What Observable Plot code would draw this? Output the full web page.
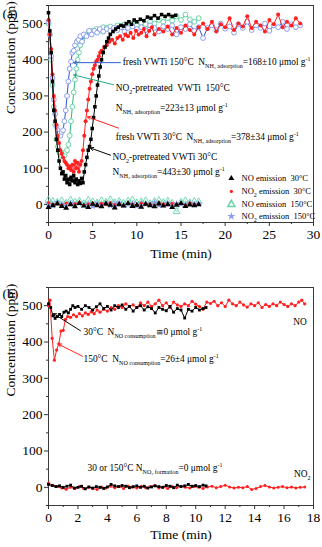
<!DOCTYPE html>
<html><head><meta charset="utf-8">
<script src="https://cdn.jsdelivr.net/npm/d3@7"></script>
<script src="https://cdn.jsdelivr.net/npm/@observablehq/plot@0.6"></script>
<style>
body{margin:0;background:#fff;}
#chart{width:322px;height:547px;position:relative;}
svg{display:block;}
</style></head><body><div id="chart"></div>
<script>
// ---------- Panel (a) data: [time (min), concentration (ppm)] ----------
const aBlack = [[0,530],[0.15,480],[0.3,420],[0.45,340],[0.6,260],[0.75,230],[0.9,180],[1.05,150],[1.2,120],[1.35,100],[1.5,85],[1.65,90],[1.8,70],[1.95,80],[2.1,60],[2.25,70],[2.4,55],[2.55,75],[2.7,65],[2.85,80],[3.0,60],[3.15,70],[3.3,55],[3.45,65],[3.6,58],[3.75,72],[3.9,60],[4.05,90],[4.2,110],[4.35,130],[4.5,150],[4.65,160],[4.8,180],[4.95,210],[5.1,240],[5.25,270],[5.4,300],[5.55,330],[5.7,355],[5.85,380],[6.0,400],[6.2,420],[6.4,435],[6.6,450],[6.8,460],[7.0,470],[7.3,478],[7.6,485],[7.9,490],[8.2,495],[8.5,493],[8.8,500],[9.1,505],[9.4,498],[9.7,510],[10.0,505],[10.4,512],[10.8,508],[11.2,518],[11.6,515],[12.0,522],[12.4,515],[12.8,525],[13.2,520],[13.6,525],[14.0,520],[14.4,523]];
const aRed = [[0,510],[0.15,470],[0.3,430],[0.45,360],[0.6,300],[0.75,260],[0.9,220],[1.05,190],[1.2,170],[1.35,150],[1.5,140],[1.65,130],[1.8,120],[1.95,115],[2.1,110],[2.25,100],[2.4,105],[2.55,95],[2.7,110],[2.85,90],[3.0,120],[3.15,100],[3.3,115],[3.45,90],[3.6,110],[3.75,120],[3.9,150],[4.05,190],[4.2,230],[4.35,260],[4.5,290],[4.65,320],[4.8,340],[4.95,360],[5.1,375],[5.25,385],[5.4,395],[5.55,400],[5.7,410],[5.85,420],[6.0,425],[6.3,435],[6.6,440],[6.9,450],[7.2,455],[7.5,445],[7.8,460],[8.1,465],[8.4,455],[8.7,470],[9.0,465],[9.3,475],[9.6,460],[9.9,480],[10.2,470],[10.5,475],[10.8,485],[11.1,465],[11.4,480],[11.7,490],[12.0,470],[12.5,485],[13.0,478],[13.5,492],[14.0,470],[14.5,488],[15.0,475],[15.5,495],[16.0,482],[16.5,470],[17.0,490],[17.5,500],[18.0,485],[18.5,505],[19.0,478],[19.5,498],[20.0,490],[20.5,515],[21.0,482],[21.5,500],[22.0,492],[22.5,520],[23.0,488],[23.5,505],[24.0,495],[24.5,478],[25.0,510],[25.5,498],[26.0,525],[26.5,490],[27.0,505],[27.5,495],[28.0,515],[28.5,500]];
const aGreen = [[0,500],[0.15,470],[0.3,400],[0.45,330],[0.6,270],[0.75,220],[0.9,180],[1.05,160],[1.2,145],[1.35,140],[1.5,135],[1.65,140],[1.8,135],[1.95,145],[2.1,150],[2.25,165],[2.4,190],[2.55,230],[2.7,270],[2.85,310],[3.0,345],[3.15,375],[3.3,400],[3.45,420],[3.6,440],[3.8,455],[4.0,465],[4.3,470],[4.6,478],[5.0,480],[5.4,485],[5.8,480],[6.2,490],[6.6,488],[7.0,492],[7.4,485],[7.8,495],[8.2,490],[8.6,498],[9.0,492],[9.5,500],[10.0,495],[10.5,502],[11.0,498],[11.5,505],[12.0,500],[12.5,510],[13.0,505],[13.5,515],[14.0,508],[14.5,520],[15.0,510],[15.5,525],[16.0,512],[16.5,505],[17.0,515]];
const aBlue = [[0,505],[0.15,470],[0.3,410],[0.45,350],[0.6,290],[0.75,250],[0.9,215],[1.05,205],[1.2,195],[1.35,190],[1.5,200],[1.65,205],[1.8,230],[1.95,260],[2.1,300],[2.25,340],[2.4,375],[2.55,395],[2.7,420],[2.85,425],[3.0,440],[3.2,450],[3.4,455],[3.6,465],[3.8,450],[4.0,470],[4.3,465],[4.6,480],[4.9,470],[5.2,480],[5.5,475],[5.8,485],[6.2,478],[6.6,485],[7.0,480],[7.4,488],[7.8,482],[8.2,490],[8.6,478],[9.0,488],[9.5,492],[10.0,485],[10.5,490],[11.0,482],[11.5,495],[12.0,488],[12.5,478],[13.0,492],[13.5,485],[14.0,495],[14.5,470],[15.0,490],[15.5,485],[16.0,498],[16.5,480],[17.0,490],[17.5,460],[18.0,488],[18.5,495],[19.0,482],[19.5,500],[20.0,486],[20.5,492],[21.0,475],[21.5,498],[22.0,488],[22.5,505],[23.0,482],[23.5,495],[24.0,488],[24.5,500],[25.0,480],[25.5,495],[26.0,490],[26.5,505],[27.0,485],[27.5,498],[28.0,490],[28.5,495]];

// emission baselines (a)
const aBaseT = [0,0.5,1,1.5,2,2.5,3,3.5,4,4.5,5,5.5,6,6.5,7,7.5,8,8.5,9,9.5,10,10.5,11,11.5,12,12.5,13,13.5,14,14.5,15,15.5,16,16.5,17];
const aNO30 = [-8,-3,2,-5,-10,0,-6,3,-4,-8,1,-3,-6,2,-2,-9,0,-4,3,-5,-2,-7,1,-3,-6,2,-4,0,-8,-2,3,-5,-1,-3,0];
const aNO2_30 = [5,0,3,-2,4,-1,2,6,-3,1,4,-2,3,0,5,-1,2,-4,3,1,-2,4,0,2,-3,5,1,-1,3,0,2,-2,4,1,0];
const aNO150 = [12,8,5,10,3,12,6,9,2,11,7,4,10,6,13,5,8,3,9,12,4,7,10,2,8,11,5,9,3,-20,6,10,4,8,7];
const aNO2_150 = [2,-3,5,0,-4,3,-1,4,-2,1,-5,2,0,3,-3,1,4,-2,0,2,-4,3,1,-1,5,-2,0,3,-3,2,1,-1,4,0,2];
const aLegendLabels = ["NO emission  30°C", "NO_{2} emission  30°C", "NO emission  150°C", "NO_{2} emission  150°C"];

// ---------- Panel (b) data ----------
const bNO30 = [[0,505],[0.15,495],[0.3,472],[0.45,465],[0.6,470],[0.75,476],[0.9,470],[1.05,482],[1.2,485],[1.35,480],[1.5,490],[1.65,500],[1.8,495],[2.0,498],[2.25,490],[2.5,500],[2.75,495],[3.0,488],[3.25,497],[3.5,505],[3.75,492],[4.0,498],[4.25,488],[4.5,500],[4.75,495],[5.0,502],[5.25,490],[5.5,498],[5.75,485],[6.0,495],[6.25,500],[6.5,488],[6.75,497],[7.0,492],[7.25,480],[7.5,495],[7.75,490],[8.0,486],[8.25,498],[8.5,482],[8.75,492],[9.0,488],[9.25,466],[9.5,490],[9.75,485],[10.0,495],[10.25,488],[10.5,492],[10.7,495]];
const bNO150 = [[0,500],[0.1,515],[0.25,410],[0.4,350],[0.55,378],[0.7,395],[0.85,430],[1.0,432],[1.15,462],[1.3,470],[1.5,468],[1.7,475],[1.9,470],[2.1,478],[2.3,472],[2.5,480],[2.7,476],[2.9,483],[3.1,478],[3.3,488],[3.5,482],[3.75,490],[4.0,485],[4.25,495],[4.5,490],[4.75,500],[5.0,495],[5.25,505],[5.5,498],[5.75,502],[6.0,495],[6.25,508],[6.5,500],[6.75,510],[7.0,498],[7.25,505],[7.5,515],[7.75,500],[8.0,508],[8.25,495],[8.5,510],[8.75,502],[9.0,498],[9.25,505],[9.5,500],[9.75,512],[10.0,504],[10.25,498],[10.5,490],[10.75,510],[11.0,506],[11.25,512],[11.5,500],[11.75,508],[12.0,498],[12.25,515],[12.5,505],[12.75,500],[13.0,510],[13.25,502],[13.5,496],[13.75,505],[14.0,500],[14.25,508],[14.5,495],[14.75,503],[15.0,498],[15.25,505],[15.5,500],[15.75,510],[16.0,503],[16.25,498],[16.5,505],[16.75,500],[17.0,510],[17.2,515],[17.4,505]];
const bNO2_30 = [[0,8],[0.25,5],[0.5,2],[0.75,4],[1.0,0],[1.25,3],[1.5,6],[1.75,-2],[2.0,0],[2.25,3],[2.5,-4],[2.75,1],[3.0,-2],[3.25,2],[3.5,0],[3.75,-3],[4.0,1],[4.25,8],[4.5,4],[4.75,2],[5.0,5],[5.25,3],[5.5,-1],[5.75,2],[6.0,4],[6.25,0],[6.5,3],[6.75,-2],[7.0,1],[7.25,4],[7.5,2],[7.75,0],[8.0,5],[8.25,3],[8.5,-1],[8.75,6],[9.0,2],[9.25,4],[9.5,8],[9.75,3],[10.0,5],[10.25,2],[10.5,6],[10.7,4]];
const bNO2_150 = [[0,12],[0.3,6],[0.6,2],[0.9,-2],[1.2,-5],[1.5,0],[1.8,-3],[2.1,2],[2.4,-4],[2.7,0],[3.0,-3],[3.3,-6],[3.6,1],[3.9,-2],[4.2,3],[4.5,-1],[4.8,2],[5.1,-3],[5.4,4],[5.7,0],[6.0,-2],[6.3,3],[6.6,-1],[6.9,2],[7.2,5],[7.5,-2],[7.8,1],[8.1,-3],[8.4,2],[8.7,-1],[9.0,3],[9.3,0],[9.6,-2],[9.9,2],[10.2,0],[10.5,-3],[10.8,1],[11.1,3],[11.4,-1],[11.7,2],[12.0,6],[12.3,1],[12.6,-2],[12.9,0],[13.2,-1],[13.5,2],[13.8,-6],[14.1,-3],[14.4,2],[14.7,5],[15.0,1],[15.3,-2],[15.6,0],[15.9,2],[16.2,-1],[16.5,1],[16.8,-2],[17.1,0],[17.4,1]];

// axis ticks
const aXTicks = [0,5,10,15,20,25,30];
const aXMinor = [2.5,7.5,12.5,17.5,22.5,27.5];
const bXTicks = [0,2,4,6,8,10,12,14,16,18];
const bXMinor = [1,3,5,7,9,11,13,15,17];
const yTicks = [0,100,200,300,400,500];
const yMinor = [-50,50,150,250,350,450,550];

// ---------- layout (annotation positions in data units) ----------
const annA = [
  {x: 8.4, y: 394, t: "fresh VWTi 150°C  N_{NH₃ adsorption}=168±10 μmol g^{-1}"},
  {x: 7.6, y: 322, t: "NO_{2}-pretreated  VWTi  150°C"},
  {x: 7.6, y: 267, t: "N_{NH₃ adsorption}=223±13 μmol g^{-1}"},
  {x: 7.6, y: 186, t: "fresh VWTi 30°C  N_{NH₃ adsorption}=378±34 μmol g^{-1}"},
  {x: 7.25, y: 130, t: "NO_{2}-pretreated VWTi 30°C"},
  {x: 7.25, y: 89, t: "N_{NH₃ adsorption}=443±30 μmol g^{-1}"}
];
const arrA = [
  {x1: 8.15, y1: 392, x2: 2.85, y2: 392, c: "#2f5bd3"},
  {x1: 7.36, y1: 331, x2: 2.85, y2: 358, c: "#27a883"},
  {x1: 7.92, y1: 211, x2: 4.42, y2: 242, c: "#ff2020"},
  {x1: 7.02, y1: 136, x2: 4.75, y2: 156, c: "#000"}
];
const annBStart = [
  {x: 2.38, y: 428, t: "30°C  N_{NO consumption}≅0 μmol g^{-1}"},
  {x: 2.38, y: 353, t: "150°C  N_{NO consumption}=26±4 μmol g^{-1}"},
  {x: 2.65, y: 53, t: "30 or 150°C N_{NO₂ formation}=0 μmol g^{-1}"}
];
const annBEnd = [
  {x: 17.55, y: 456, t: "NO"},
  {x: 17.8, y: 36, t: "NO_{2}"}
];
const arrB = [
  {x1: 2.17, y1: 431, x2: 0.34, y2: 478, c: "#000"},
  {x1: 2.3, y1: 361, x2: 0.68, y2: 394, c: "#ff2020"}
];

const F = "Liberation Serif";
const RED = "#ff2020", GREEN = "#2fb887", GREENPT = "#66d6a8", BLUE = "#3356d0", BLUEPT = "#8c9ef0";
const X = d => d[0], Y = d => d[1];
const ANN = 9.4;

function axes(xt, xm) {
  return [
    Plot.frame({stroke: "#3a3a3a", strokeWidth: 1}),
    Plot.axisX({ticks: xt, tickSize: 4, tickPadding: 3, label: null, fontSize: 13.5, fill: "#000", stroke: "#333"}),
    Plot.axisX({ticks: xm, tickSize: 2, fill: "none", label: null, stroke: "#333"}),
    Plot.axisY({ticks: yTicks, tickSize: 4, tickPadding: 2, label: null, fontSize: 13.5, fill: "#000", stroke: "#333"}),
    Plot.axisY({ticks: yMinor, tickSize: 2, fill: "none", label: null, stroke: "#333"})
  ];
}

const base = (vals) => vals.map((v, i) => [aBaseT[i], v]);
const legY = [72, 36, 0, -33];

const plotA = Plot.plot({
  width: 322, height: 265,
  marginTop: 5, marginBottom: 43, marginLeft: 48, marginRight: 9,
  style: {fontFamily: F, fontSize: "13px", background: "white", overflow: "visible", color: "#000"},
  x: {domain: [0, 30]},
  y: {domain: [-50, 550]},
  marks: [
    ...axes(aXTicks, aXMinor),
    Plot.line(aGreen, {x: X, y: Y, stroke: GREEN, strokeWidth: 1}),
    Plot.dot(aGreen, {x: X, y: Y, r: 2.4, stroke: GREENPT, fill: "white", strokeWidth: 1}),
    Plot.line(aBlue, {x: X, y: Y, stroke: BLUE, strokeWidth: 1}),
    Plot.dot(aBlue, {x: X, y: Y, r: 2.4, stroke: BLUEPT, fill: "white", strokeWidth: 1}),
    Plot.line(aRed, {x: X, y: Y, stroke: RED, strokeWidth: 1}),
    Plot.dot(aRed, {x: X, y: Y, r: 2, fill: RED}),
    Plot.line(aBlack, {x: X, y: Y, stroke: "#000", strokeWidth: 1}),
    Plot.dot(aBlack, {x: X, y: Y, r: 2, symbol: "square", fill: "#000"}),
    // emission baselines
    Plot.line(base(aNO150), {x: X, y: Y, stroke: GREENPT, strokeWidth: 0.6}),
    Plot.dot(base(aNO150), {x: X, y: Y, r: 2.6, symbol: "triangle", stroke: GREENPT, fill: "none", strokeWidth: 0.9}),
    Plot.line(base(aNO2_150), {x: X, y: Y, stroke: BLUEPT, strokeWidth: 0.6}),
    Plot.dot(base(aNO2_150), {x: X, y: Y, r: 2.4, symbol: "star", fill: BLUEPT}),
    Plot.line(base(aNO2_30), {x: X, y: Y, stroke: RED, strokeWidth: 0.6}),
    Plot.dot(base(aNO2_30), {x: X, y: Y, r: 1.5, fill: RED}),
    Plot.dot(base(aNO30), {x: X, y: Y, r: 2.2, symbol: "triangle", fill: "#000"}),
    // legend
    Plot.dot([0], {x: 20.7, y: legY[0], r: 2.2, symbol: "triangle", fill: "#000"}),
    Plot.dot([0], {x: 20.7, y: legY[1], r: 1.6, fill: RED}),
    Plot.dot([0], {x: 20.7, y: legY[2], r: 2.6, symbol: "triangle", stroke: GREENPT, fill: "none"}),
    Plot.dot([0], {x: 20.7, y: legY[3], r: 2.6, symbol: "star", fill: BLUEPT}),
    Plot.text(aLegendLabels, {x: 21.85, y: (d, i) => legY[i], text: d => d, textAnchor: "start", fontSize: 8.5, fill: "#000"}),
    // arrows & annotations
    Plot.arrow(arrA, {x1: "x1", y1: "y1", x2: "x2", y2: "y2", stroke: "c", strokeWidth: 1, headLength: 5}),
    Plot.text(annA, {x: "x", y: "y", text: "t", textAnchor: "start", fontSize: ANN, fill: "#000"}),
    // labels
    Plot.text(["(a)"], {frameAnchor: "top-left", dx: -46, dy: 3, textAnchor: "start", fontSize: 13.5, fill: "#000"}),
    Plot.text(["Concentration (ppm)"], {frameAnchor: "left", dx: -38, rotate: -90, fontSize: 13.5, fill: "#000"}),
    Plot.text(["Time (min)"], {frameAnchor: "bottom", dy: 35, fontSize: 13.5, fill: "#000"})
  ]
});

const plotB = Plot.plot({
  width: 322, height: 282,
  marginTop: 22, marginBottom: 42, marginLeft: 48, marginRight: 9,
  style: {fontFamily: F, fontSize: "13px", background: "white", overflow: "visible", color: "#000"},
  x: {domain: [0, 18]},
  y: {domain: [-50, 550]},
  marks: [
    ...axes(bXTicks, bXMinor),
    Plot.line(bNO150, {x: X, y: Y, stroke: RED, strokeWidth: 1}),
    Plot.dot(bNO150, {x: X, y: Y, r: 1.6, fill: RED}),
    Plot.line(bNO30, {x: X, y: Y, stroke: "#000", strokeWidth: 1}),
    Plot.dot(bNO30, {x: X, y: Y, r: 1.6, symbol: "square", fill: "#000"}),
    Plot.line(bNO2_150, {x: X, y: Y, stroke: RED, strokeWidth: 1}),
    Plot.dot(bNO2_150, {x: X, y: Y, r: 1.5, fill: RED}),
    Plot.line(bNO2_30, {x: X, y: Y, stroke: "#000", strokeWidth: 1}),
    Plot.dot(bNO2_30, {x: X, y: Y, r: 1.6, symbol: "square", fill: "#000"}),
    Plot.arrow(arrB, {x1: "x1", y1: "y1", x2: "x2", y2: "y2", stroke: "c", strokeWidth: 1, headLength: 5}),
    Plot.text(annBStart, {x: "x", y: "y", text: "t", textAnchor: "start", fontSize: ANN, fill: "#000"}),
    Plot.text(annBEnd, {x: "x", y: "y", text: "t", textAnchor: "end", fontSize: ANN, fill: "#000"}),
    Plot.text(["(b)"], {frameAnchor: "top-left", dx: -46, dy: 1, textAnchor: "start", fontSize: 13.5, fill: "#000"}),
    Plot.text(["Concentration (ppm)"], {frameAnchor: "left", dx: -38, rotate: -90, fontSize: 13.5, fill: "#000"}),
    Plot.text(["Time (min)"], {frameAnchor: "bottom", dy: 33, fontSize: 13.5, fill: "#000"})
  ]
});

// convert _{..} / ^{..} markup into real sub/superscript tspans
function richText(svg) {
  d3.select(svg).selectAll("text").each(function () {
    const t = this.textContent;
    if (!/[_^]\{/.test(t)) return;
    const el = d3.select(this);
    const fs = parseFloat(this.getAttribute("font-size")) || parseFloat(getComputedStyle(this).fontSize) || 10;
    el.text(null);
    const re = /([_^])\{([^}]*)\}/g;
    let last = 0, m, pending = 0;
    const plain = (s) => { const sp = el.append("tspan").text(s); if (pending) { sp.attr("dy", pending); pending = 0; } };
    while ((m = re.exec(t))) {
      if (m.index > last) plain(t.slice(last, m.index));
      const shift = m[1] === "_" ? fs * 0.3 : -fs * 0.4;
      el.append("tspan").attr("font-size", fs * 0.6).attr("dy", shift + pending).text(m[2]);
      pending = -shift;
      last = re.lastIndex;
    }
    if (last < t.length) plain(t.slice(last));
  });
}
richText(plotA);
richText(plotB);
const chart = document.getElementById("chart");
chart.appendChild(plotA);
chart.appendChild(plotB);
</script></body></html>
